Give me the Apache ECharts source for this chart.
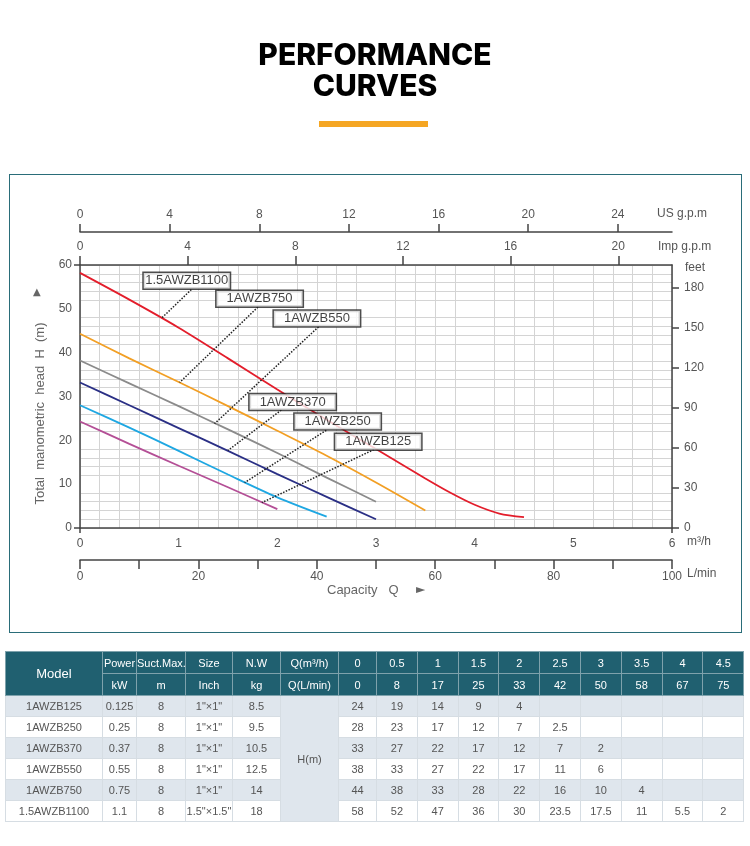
<!DOCTYPE html>
<html>
<head>
<meta charset="utf-8">
<script src="https://cdn.jsdelivr.net/npm/echarts@6/dist/echarts.min.js"></script>
<style>
body{margin:0;width:750px;height:846px;background:#fff;position:relative;overflow:hidden;font-family:"Liberation Sans",Arial,sans-serif;}
#main{position:absolute;left:0;top:0;width:750px;height:846px;}
.title{position:absolute;left:0;top:39px;width:750px;text-align:center;font-family:Inter,"Liberation Sans",sans-serif;font-weight:800;font-size:30px;line-height:30.5px;color:#000;}
.bar{position:absolute;left:319px;top:121px;width:109px;height:6px;background:#f5a623;}
.box{position:absolute;left:9px;top:174px;width:731px;height:457px;border:1.5px solid #2a6d79;pointer-events:none;}
#tbl{position:absolute;left:5px;top:651px;width:738px;border-collapse:collapse;table-layout:fixed;font-size:11px;color:#555;}
#tbl th{background:#206070;color:#fff;font-weight:normal;height:21px;padding:0;border:1px solid #7ea2ac;text-align:center;}
#tbl th.model{font-size:13px;}
#tbl td{height:20px;padding:0;border:1px solid #d6dde3;text-align:center;}
#tbl tr.sh td{background:#dfe6ed;}
#tbl tr.wh td{background:#fff;}
#tbl td.hm{background:#dfe6ed !important;}
</style>
</head>
<body>
<div id="main"></div>
<div class="title">PERFORMANCE<br>CURVES</div>
<div class="bar"></div>
<div class="box"></div>
<table id="tbl"></table>
<script>
// capacity points of the table
var qM3h = [0, 0.5, 1, 1.5, 2, 2.5, 3, 3.5, 4, 4.5];
var qLmin = [0, 8, 17, 25, 33, 42, 50, 58, 67, 75];

var models = ['1AWZB125', '1AWZB250', '1AWZB370', '1AWZB550', '1AWZB750', '1.5AWZB1100'];
var power = ['0.125', '0.25', '0.37', '0.55', '0.75', '1.1'];
var suction = ['8', '8', '8', '8', '8', '8'];
var sizes = ['1"×1"', '1"×1"', '1"×1"', '1"×1"', '1"×1"', '1.5"×1.5"'];
var weight = ['8.5', '9.5', '10.5', '12.5', '14', '18'];
var headTable = [
  [24, 19, 14, 9, 4],
  [28, 23, 17, 12, 7, 2.5],
  [33, 27, 22, 17, 12, 7, 2],
  [38, 33, 27, 22, 17, 11, 6],
  [44, 38, 33, 28, 22, 16, 10, 4],
  [58, 52, 47, 36, 30, 23.5, 17.5, 11, 5.5, 2]
];

// head curves as drawn on the chart (m), at qM3h
var curve125 = [24.3, 19.2, 14.2, 9.3, 4.3];
var curve250 = [28.0, 22.9, 17.6, 12.2, 7.0, 2.6];
var curve370 = [33.2, 28.0, 22.8, 17.6, 12.3, 7.1, 2.0];
var curve550 = [38.2, 33.0, 27.8, 22.5, 17.1, 11.5, 6.0];
var curve750 = [44.3, 38.7, 33.3, 27.8, 22.2, 16.5, 10.4, 4.0];
// the 1100 curve is read a little finer near its tail
var q1100 = [0, 0.5, 1, 1.5, 2, 2.5, 3, 3.5, 3.75, 4, 4.25, 4.5];
var curve1100 = [58.2, 52.1, 45.7, 38.7, 31.6, 24.7, 18.0, 11.3, 8.1, 5.3, 3.3, 2.5];

// tick labels of the extra scales
var usGpmTicks = [0, 4, 8, 12, 16, 20, 24];
var impGpmTicks = [0, 4, 8, 12, 16, 20];
var feetTicks = [0, 30, 60, 90, 120, 150, 180];
var lminTicks = [0, 10, 20, 30, 40, 50, 60, 70, 80, 90, 100];
var lminLabels = [0, 20, 40, 60, 80, 100];

// model tags: box anchor and dotted leader (Q, H)
var tagNames = ['1.5AWZB1100', '1AWZB750', '1AWZB550', '1AWZB370', '1AWZB250', '1AWZB125'];
var tagAnchor = [[1.082, 56.4], [1.820, 52.3], [2.401, 47.8], [2.155, 28.75], [2.611, 24.3], [3.022, 19.7]];
var leaderFrom = [[1.128, 54.4], [1.803, 50.4], [2.418, 45.9], [2.040, 26.9], [2.496, 22.3], [2.979, 17.9]];
var leaderTo = [[0.824, 47.8], [1.010, 33.2], [1.364, 23.8], [1.5, 17.7], [1.668, 10.35], [1.844, 5.8]];

function buildTable() {
  var colW = [97, 34, 49, 47, 48, 58, 38, 40.8, 40.8, 40.8, 40.8, 40.8, 40.8, 40.8, 40.8, 40.8];
  var h = '<colgroup>';
  colW.forEach(function (w) { h += '<col style="width:' + w + 'px">'; });
  h += '</colgroup>';
  h += '<tr><th rowspan="2" class="model">Model</th><th>Power</th><th>Suct.Max.</th><th>Size</th><th>N.W</th><th>Q(m³/h)</th>';
  qM3h.forEach(function (q) { h += '<th>' + q + '</th>'; });
  h += '</tr><tr><th>kW</th><th>m</th><th>Inch</th><th>kg</th><th>Q(L/min)</th>';
  qLmin.forEach(function (q) { h += '<th>' + q + '</th>'; });
  h += '</tr>';
  models.forEach(function (m, i) {
    h += '<tr class="' + (i % 2 === 0 ? 'sh' : 'wh') + '"><td>' + m + '</td><td>' + power[i] + '</td><td>' +
      suction[i] + '</td><td>' + sizes[i] + '</td><td>' + weight[i] + '</td>';
    if (i === 0) h += '<td rowspan="6" class="hm">H(m)</td>';
    for (var j = 0; j < qM3h.length; j++) {
      var v = headTable[i][j];
      h += '<td>' + (v === undefined ? '' : v) + '</td>';
    }
    h += '</tr>';
  });
  document.getElementById('tbl').innerHTML = h;
}
buildTable();

function pts(curve, qs) {
  qs = qs || qM3h;
  return curve.map(function (h, i) { return [qs[i], h]; });
}

var axisColor = '#444';
var lineSt = { color: axisColor, width: 1.5 };
var labelSt = { color: '#555', fontSize: 12, fontFamily: 'Liberation Sans' };
var gridLine = { color: '#d4d4d4', width: 1 };

var myChart = echarts.init(document.getElementById('main'));
var option = {
  animation: false,
  grid: { left: 80, right: 78, top: 265, bottom: 318 },
  xAxis: [
    {
      type: 'value', position: 'bottom', min: 0, max: 6, interval: 1,
      axisLine: { show: true, onZero: false, lineStyle: lineSt },
      axisTick: { show: true, customValues: [0, 6], length: 5, lineStyle: lineSt },
      axisLabel: Object.assign({ margin: 10 }, labelSt),
      splitLine: { show: true, lineStyle: gridLine },
      minorTick: { show: false, splitNumber: 5 },
      minorSplitLine: { show: true, lineStyle: gridLine },
      name: 'm³/h', nameLocation: 'end', nameGap: 15,
      nameTextStyle: { color: '#555', fontSize: 12, align: 'left', verticalAlign: 'top', padding: [8, 0, 0, 0] }
    },
    {
      type: 'value', position: 'bottom', offset: 32, min: 0, max: 100,
      axisLine: { show: true, onZero: false, lineStyle: lineSt },
      axisTick: { show: true, customValues: lminTicks, length: 9, lineStyle: lineSt },
      axisLabel: Object.assign({ margin: 11, customValues: lminLabels }, labelSt),
      splitLine: { show: false },
      name: 'L/min', nameLocation: 'end', nameGap: 15,
      nameTextStyle: { color: '#555', fontSize: 12, align: 'left', verticalAlign: 'top', padding: [8, 0, 0, 0] }
    },
    {
      type: 'value', position: 'top', offset: 0, min: 0, max: 6 * 3.66619,
      axisLine: { show: true, onZero: false, lineStyle: lineSt },
      axisTick: { show: true, customValues: impGpmTicks, length: 9, lineStyle: lineSt },
      axisLabel: Object.assign({ margin: 12, customValues: impGpmTicks }, labelSt),
      splitLine: { show: false },
      name: 'Imp g.p.m', nameLocation: 'end', nameGap: -14,
      nameTextStyle: { color: '#555', fontSize: 12, align: 'left', verticalAlign: 'bottom', padding: [0, 0, 12, 0] }
    },
    {
      type: 'value', position: 'top', offset: 33, min: 0, max: 6 * 4.40287,
      axisLine: { show: true, onZero: false, lineStyle: lineSt },
      axisTick: { show: true, customValues: usGpmTicks, length: 8, lineStyle: lineSt },
      axisLabel: Object.assign({ margin: 11, customValues: usGpmTicks }, labelSt),
      splitLine: { show: false },
      name: 'US g.p.m', nameLocation: 'end', nameGap: -15,
      nameTextStyle: { color: '#555', fontSize: 12, align: 'left', verticalAlign: 'bottom', padding: [0, 0, 12, 0] }
    }
  ],
  yAxis: [
    {
      type: 'value', position: 'left', min: 0, max: 60, interval: 10,
      axisLine: { show: true, onZero: false, lineStyle: lineSt },
      axisTick: { show: true, customValues: [0, 60], length: 6, lineStyle: lineSt },
      axisLabel: Object.assign({ margin: 8 }, labelSt),
      splitLine: { show: true, lineStyle: gridLine },
      minorTick: { show: false, splitNumber: 5 },
      minorSplitLine: { show: true, lineStyle: gridLine },
      name: 'Total  manometric  head  H  (m)', nameLocation: 'middle', nameGap: 33,
      nameTextStyle: { color: '#666', fontSize: 13, fontFamily: 'Liberation Sans', padding: [0, 34, 0, 0] }
    },
    {
      type: 'value', position: 'right', min: 0, max: 60 / 0.3048,
      axisLine: { show: true, onZero: false, lineStyle: lineSt },
      axisTick: { show: true, customValues: feetTicks, length: 7, lineStyle: lineSt },
      axisLabel: Object.assign({ margin: 12, customValues: feetTicks }, labelSt),
      splitLine: { show: false },
      name: 'feet', nameLocation: 'end', nameGap: 3,
      nameTextStyle: { color: '#555', fontSize: 12, align: 'left', verticalAlign: 'top', padding: [0, 0, 0, 13] }
    }
  ],
  graphic: [
    { type: 'text', left: 33, top: 287, style: { text: '▲', fill: '#666', font: '10px "DejaVu Sans"' } },
    { type: 'text', left: 327, top: 584, style: { text: 'Capacity   Q', fill: '#666', font: '13px "Liberation Sans"' } },
    { type: 'text', left: 416, top: 584, style: { text: '►', fill: '#666', font: '12px "DejaVu Sans"' } }
  ],
  series: [
    { name: '1AWZB125', type: 'line', data: pts(curve125), color: '#b44f96' },
    { name: '1AWZB250', type: 'line', data: pts(curve250), color: '#1ea7e2' },
    { name: '1AWZB370', type: 'line', data: pts(curve370), color: '#2a2f85' },
    { name: '1AWZB550', type: 'line', data: pts(curve550), color: '#8b8b8b' },
    { name: '1AWZB750', type: 'line', data: pts(curve750), color: '#f29f24' },
    { name: '1.5AWZB1100', type: 'line', data: pts(curve1100, q1100), color: '#e31d2b' },
    {
      name: 'tags', type: 'scatter', symbolSize: 0, z: 5,
      data: tagNames.map(function (n, i) { return { name: n, value: tagAnchor[i] }; }),
      label: {
        show: true, position: 'inside', formatter: '{b}',
        color: '#111', fontSize: 13, fontFamily: 'Liberation Sans',
        width: 82, lineHeight: 13.5, align: 'center',
        padding: [1, 2, 1, 2], backgroundColor: '#fff', borderColor: '#222', borderWidth: 1.5
      },
      markLine: {
        silent: true, symbol: ['none', 'none'], label: { show: false },
        lineStyle: { type: 'dotted', color: '#222', width: 1.5 },
        data: leaderFrom.map(function (p, i) { return [{ coord: p }, { coord: leaderTo[i] }]; })
      }
    }
  ]
};
option.series.forEach(function (s) {
  if (s.type === 'line') {
    s.smooth = 0.3;
    s.symbol = 'none';
    s.lineStyle = { width: 1.8 };
  }
});
myChart.setOption(option);
</script>
</body>
</html>
